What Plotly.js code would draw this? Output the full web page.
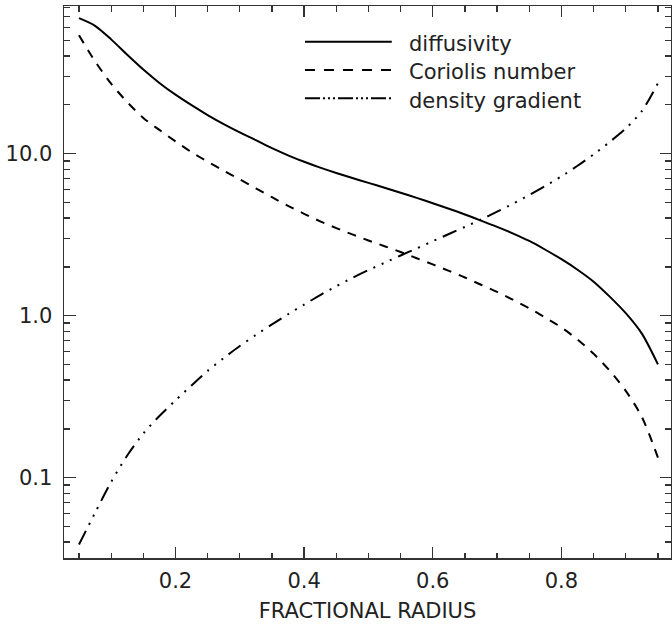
<!DOCTYPE html>
<html>
<head>
<meta charset="utf-8">
<script src="https://cdn.plot.ly/plotly-3.0.1.min.js"></script>
<style>html,body{margin:0;padding:0;background:#fff;}#chart{width:672px;height:625px;}</style>
</head>
<body>
<div id="chart"></div>
<script>
// Fractional radius sample points
var radius = [0.050, 0.075, 0.100, 0.125, 0.150, 0.175, 0.200, 0.225, 0.250, 0.275, 0.300, 0.325, 0.350,
              0.375, 0.400, 0.425, 0.450, 0.475, 0.500, 0.525, 0.550, 0.575, 0.600, 0.625, 0.650, 0.675,
              0.700, 0.725, 0.750, 0.775, 0.800, 0.825, 0.850, 0.875, 0.900, 0.925, 0.950];
// Series values
var diffusivity = [68.5, 61.5, 50.7, 40.7, 33.0, 27.3, 23.1, 19.9, 17.3, 15.2, 13.5, 12.1, 10.8,
                   9.76, 8.90, 8.19, 7.59, 7.07, 6.60, 6.16, 5.73, 5.33, 4.94, 4.57, 4.21, 3.86,
                   3.53, 3.21, 2.89, 2.55, 2.23, 1.92, 1.62, 1.31, 1.035, 0.774, 0.50];
var coriolis = [53.7, 37.1, 27.0, 20.8, 16.6, 14.0, 11.9, 10.2, 8.91, 7.85, 6.93, 6.11, 5.38,
                4.76, 4.25, 3.82, 3.47, 3.17, 2.91, 2.68, 2.47, 2.26, 2.07, 1.89, 1.72, 1.55,
                1.40, 1.25, 1.11, 0.972, 0.845, 0.712, 0.581, 0.457, 0.343, 0.237, 0.133];
var densityGradient = [0.0387, 0.0607, 0.0940, 0.137, 0.187, 0.240, 0.300, 0.371, 0.456, 0.547, 0.649, 0.760, 0.883,
                       1.02, 1.17, 1.34, 1.52, 1.71, 1.91, 2.12, 2.35, 2.60, 2.88, 3.19, 3.53, 3.92,
                       4.38, 4.91, 5.55, 6.31, 7.24, 8.41, 9.89, 11.8, 14.3, 18.3, 27.2];
var seriesNames = ["diffusivity", "Coriolis number", "density gradient"];
// Tick labels
var xTickVals = [0.2, 0.4, 0.6, 0.8];
var xTickText = ["0.2", "0.4", "0.6", "0.8"];
var yTickVals = [0.1, 1, 10];
var yTickText = ["0.1", "1.0", "10.0"];
var xTitle = "FRACTIONAL RADIUS";

var FONT = "DejaVu Sans, Liberation Sans, sans-serif";
var TXT = "#222";
var AX = "#333";
var dashes = ["solid", "9px,8px", "15px,7px,2px,7px,2px,7px,2px,7px"];
var legendDashes = ["solid", "10px,9px", "15px,3px,2px,3px,2px,3px,2px,3px"];
var ys = [diffusivity, coriolis, densityGradient];

var traces = ys.map(function (y, i) {
  return {
    x: radius, y: y, type: "scatter", mode: "lines", name: seriesNames[i],
    line: {color: "#000", width: 2, dash: dashes[i], shape: "spline", smoothing: 0.8},
    showlegend: false, hoverinfo: "skip"
  };
});

// custom legend (long line samples like the reference)
var legY = [0.9353, 0.884, 0.8328];
var shapes = [], annotations = [];
for (var i = 0; i < 3; i++) {
  shapes.push({type: "line", xref: "paper", yref: "paper", x0: 0.397, x1: 0.540, y0: legY[i], y1: legY[i],
               line: {color: "#000", width: 2, dash: legendDashes[i]}});
  annotations.push({xref: "paper", yref: "paper", x: 0.5646, y: legY[i] - 0.004, xanchor: "left", yanchor: "middle",
                    text: seriesNames[i], showarrow: false, font: {family: FONT, size: 21, color: TXT}});
}

var layout = {
  width: 672, height: 625,
  margin: {l: 64, r: 1, t: 6, b: 67, pad: 0},
  paper_bgcolor: "#fff", plot_bgcolor: "#fff",
  showlegend: false,
  xaxis: {
    showline: true, linecolor: AX, linewidth: 1.5, mirror: "allticks",
    ticks: "inside", ticklen: 11, tickwidth: 1.3, tickcolor: AX,
    range: [0.0267, 0.9703], tickmode: "array", tickvals: xTickVals, ticktext: xTickText,
    ticklabelstandoff: 3, showgrid: false, zeroline: false,
    tickfont: {family: FONT, size: 21, color: TXT},
    minor: {ticks: "inside", ticklen: 5.5, tickwidth: 1.3, tickcolor: AX, dtick: 0.05, tick0: 0, showgrid: false},
    title: {text: xTitle, font: {family: FONT, size: 21, color: TXT}, standoff: 11}
  },
  yaxis: {
    type: "log", showline: true, linecolor: AX, linewidth: 1.5, mirror: "allticks",
    ticks: "inside", ticklen: 11.5, tickwidth: 1.3, tickcolor: AX,
    range: [-1.496, 1.911], tickmode: "array", tickvals: yTickVals, ticktext: yTickText,
    ticklabelstandoff: 6, showgrid: false, zeroline: false,
    tickfont: {family: FONT, size: 21, color: TXT},
    minor: {ticks: "inside", ticklen: 6, tickwidth: 1.3, tickcolor: AX, dtick: "D1", showgrid: false}
  },
  shapes: shapes,
  annotations: annotations
};

Plotly.newPlot("chart", traces, layout, {staticPlot: true, displayModeBar: false});
</script>
</body>
</html>
